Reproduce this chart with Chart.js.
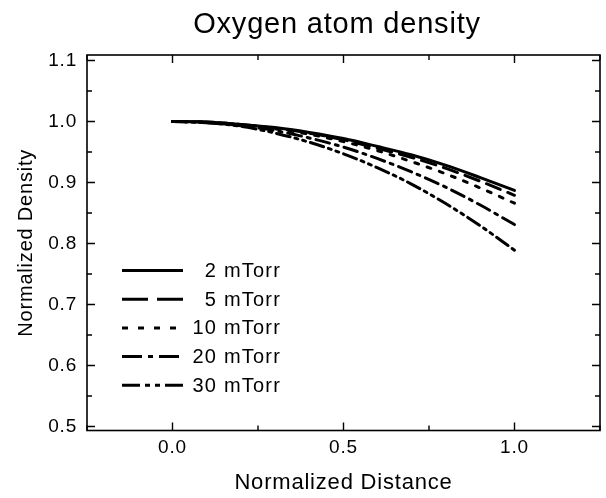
<!DOCTYPE html>
<html><head><meta charset="utf-8">
<script src="https://cdn.jsdelivr.net/npm/chart.js@4/dist/chart.umd.min.js"></script>
<style>html,body{margin:0;padding:0;background:#fff}#wrap{width:606px;height:498px;position:relative}</style>
</head><body><div id="wrap"><canvas id="c" width="606" height="498"></canvas></div>
<script>
const chartTitle = 'Oxygen atom density';
const xValues = [0, 0.1, 0.2, 0.3, 0.4, 0.5, 0.6, 0.7, 0.8, 0.9, 1.0];
const seriesNames = ['2 mTorr', '5 mTorr', '10 mTorr', '20 mTorr', '30 mTorr'];
const d2  = [1.000, 0.999, 0.995, 0.990, 0.982, 0.972, 0.959, 0.945, 0.928, 0.908, 0.887];
const d5  = [1.000, 0.999, 0.995, 0.989, 0.981, 0.970, 0.956, 0.941, 0.923, 0.902, 0.879];
const d10 = [1.000, 0.999, 0.995, 0.988, 0.979, 0.967, 0.952, 0.934, 0.914, 0.891, 0.866];
const d20 = [1.000, 0.998, 0.993, 0.985, 0.973, 0.958, 0.939, 0.917, 0.892, 0.863, 0.831];
const d30 = [1.000, 0.998, 0.992, 0.981, 0.966, 0.947, 0.924, 0.897, 0.865, 0.829, 0.789];
const xTickValues = [0, 0.5, 1.0];
const xMinorTicks = [-0.25, 0.25, 0.75, 1.25];
const yTickValues = [0.5, 0.6, 0.7, 0.8, 0.9, 1.0, 1.1];
const yMinorTicks = [0.55, 0.65, 0.75, 0.85, 0.95, 1.05];

const FONT = "'Liberation Sans', Arial, Helvetica, sans-serif";
const dashes = [[], [26, 9], [6, 10], [20, 6, 5, 6], [18, 5, 5, 5, 5, 5]];
const plotDashes = [[], [15, 8], [4, 9], [14, 6, 3, 6], [14, 5, 3, 5, 3, 5]];
const allSeries = [d2, d5, d10, d20, d30];

const datasets = allSeries.map((s, i) => ({
  label: seriesNames[i],
  data: xValues.map((x, j) => ({x: x, y: s[j]})),
  borderColor: '#000',
  borderWidth: 3,
  borderDash: plotDashes[i],
  borderCapStyle: 'round',
  pointRadius: 0,
  fill: false,
  cubicInterpolationMode: 'monotone'
}));

const spacingPlugin = {
  id: 'spacing',
  beforeUpdate(chart) { chart.ctx.letterSpacing = '0.8px'; },
  beforeLayout(chart) { chart.ctx.letterSpacing = '0.8px'; },
  beforeDraw(chart) { chart.ctx.letterSpacing = '0.8px'; }
};

const framePlugin = {
  id: 'frame',
  afterDatasetsDraw(chart) {
    const {ctx, chartArea: a, scales: {x, y}} = chart;
    ctx.save();
    ctx.strokeStyle = '#000';
    ctx.lineWidth = 1.6;
    ctx.strokeRect(a.left, a.top, a.right - a.left, a.bottom - a.top);
    ctx.lineWidth = 1.4;
    const tick = (v, len, horiz) => {
      ctx.beginPath();
      if (horiz) {
        const px = x.getPixelForValue(v);
        ctx.moveTo(px, a.bottom); ctx.lineTo(px, a.bottom - len);
        ctx.moveTo(px, a.top); ctx.lineTo(px, a.top + len);
      } else {
        const py = y.getPixelForValue(v);
        ctx.moveTo(a.left, py); ctx.lineTo(a.left + len, py);
        ctx.moveTo(a.right, py); ctx.lineTo(a.right - len, py);
      }
      ctx.stroke();
    };
    xTickValues.forEach(v => tick(v, 8, true));
    xMinorTicks.forEach(v => tick(v, 5, true));
    yTickValues.forEach(v => tick(v, 8, false));
    yMinorTicks.forEach(v => tick(v, 5, false));

    // title
    ctx.font = '29px ' + FONT;
    ctx.letterSpacing = '0.8px';
    ctx.fillStyle = '#000';
    ctx.textAlign = 'center';
    ctx.textBaseline = 'alphabetic';
    ctx.fillText(chartTitle, 337, 33);

    // legend
    ctx.font = '20px ' + FONT;
    ctx.letterSpacing = '1.2px';
    ctx.textBaseline = 'middle';
    ctx.textAlign = 'right';
    seriesNames.forEach((n, i) => {
      const yy = 270.5 + i * 28.7;
      ctx.beginPath();
      ctx.lineWidth = 3;
      ctx.lineCap = 'butt';
      ctx.setLineDash(dashes[i]);
      ctx.moveTo(122, yy);
      ctx.lineTo(i >= 3 ? 185 : 183, yy);
      ctx.stroke();
      ctx.setLineDash([]);
      ctx.fillText(n, 281, yy + 1);
    });
    ctx.restore();
  }
};

new Chart(document.getElementById('c'), {
  type: 'line',
  data: {datasets},
  options: {
    responsive: false,
    animation: false,
    layout: {padding: {top: 55, right: 6, bottom: 0, left: 0}},
    plugins: {
      legend: {display: false},
      tooltip: {enabled: false},
      title: {display: false}
    },
    scales: {
      x: {
        type: 'linear',
        min: -0.25, max: 1.25,
        grid: {display: false, drawTicks: false},
        border: {display: false},
        afterBuildTicks: s => { s.ticks = xTickValues.map(v => ({value: v})); },
        afterFit: s => { s.height = 67.5; },
        ticks: {
          color: '#000', padding: 6,
          font: {family: FONT, size: 19},
          callback: v => v.toFixed(1),
          maxRotation: 0
        },
        title: {
          display: true, text: 'Normalized Distance', color: '#000',
          font: {family: FONT, size: 22}, padding: {top: 4, bottom: 2}
        }
      },
      y: {
        type: 'linear',
        min: 0.4934, max: 1.109,
        grid: {display: false, drawTicks: false},
        border: {display: false},
        afterBuildTicks: s => { s.ticks = yTickValues.map(v => ({value: v})); },
        afterFit: s => { s.width = 87; },
        ticks: {
          color: '#000', padding: 10,
          font: {family: FONT, size: 19},
          callback: v => v.toFixed(1)
        },
        title: {
          display: true, text: 'Normalized Density', color: '#000',
          font: {family: FONT, size: 20}, padding: {top: 14, bottom: 0}
        }
      }
    }
  },
  plugins: [spacingPlugin, framePlugin]
});
</script></body></html>
